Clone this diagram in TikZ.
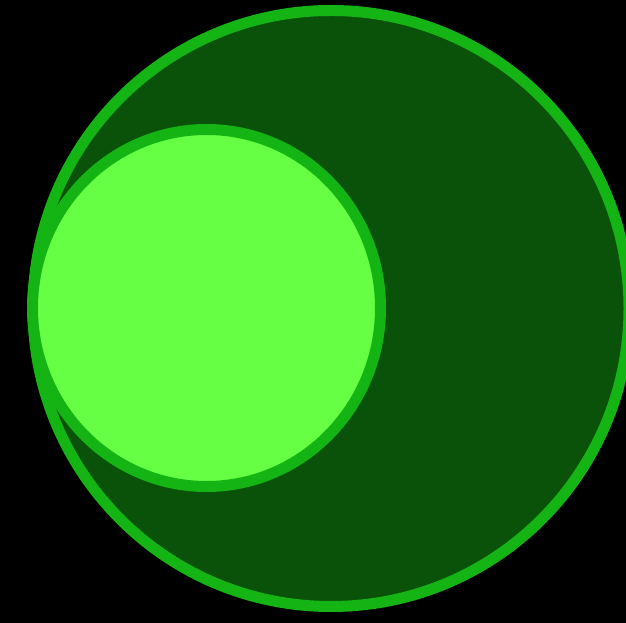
\documentclass[tikz,border=0pt]{standalone}
\usepackage{tikz}

\definecolor{ringgreen}{HTML}{14B414}
\definecolor{darkgreen}{HTML}{0A520A}
\definecolor{lightgreen}{HTML}{66FF44}

\begin{document}
\begin{tikzpicture}[x=1pt, y=1pt, ring/.style={draw=ringgreen, line width=11pt}]
    \fill [black] (0,0) rectangle (626,623);
    \useasboundingbox (0,0) rectangle (626,623);
    \begin{scope}
        \clip (0,0) rectangle (626,623);
        \draw [ring, fill=darkgreen] (331,314.5) circle (298);
        \draw [ring, fill=lightgreen] (206.5,315) ellipse (174 and 178.5);
    \end{scope}
\end{tikzpicture}
\end{document}
